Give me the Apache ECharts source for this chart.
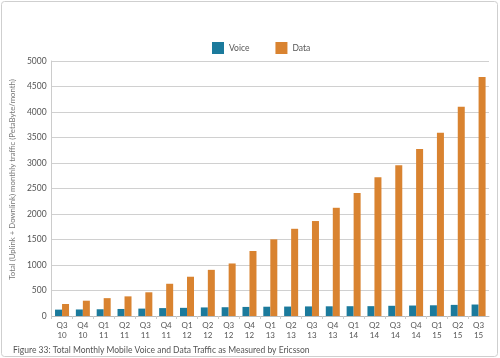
<!DOCTYPE html>
<html>
<head>
<meta charset="utf-8">
<script src="https://cdn.jsdelivr.net/npm/echarts@6/dist/echarts.min.js"></script>
<style>
html,body{margin:0;padding:0;background:#fff;}
#c{width:500px;height:358px;}
</style>
</head>
<body>
<div id="c"></div>
<script>
const categories = ['Q3\n10','Q4\n10','Q1\n11','Q2\n11','Q3\n11','Q4\n11','Q1\n12','Q2\n12','Q3\n12','Q4\n12','Q1\n13','Q2\n13','Q3\n13','Q4\n13','Q1\n14','Q2\n14','Q3\n14','Q4\n14','Q1\n15','Q2\n15','Q3\n15'];
const voice = [125,128,132,138,145,155,160,168,172,178,182,185,188,190,192,193,200,205,210,218,225];
const data = [235,300,350,385,465,632,770,905,1030,1275,1503,1710,1862,2122,2412,2720,2955,3275,3595,4105,4686];
const yTicks = {min:0, max:5000, interval:500};
const caption = 'Figure 33: Total Monthly Mobile Voice and Data Traffic as Measured by Ericsson';
const yName = 'Total (Uplink + Downlink) monthly traffic (PetaByte/month)';

const chart = echarts.init(document.getElementById('c'), null, {renderer:'canvas'});
const font = 'Lato, "Open Sans", sans-serif';
chart.setOption({
  animation:false,
  backgroundColor:'#fff',
  textStyle:{fontFamily:font},
  graphic:[{type:'rect', shape:{x:1.5,y:1.5,width:496,height:355,r:3}, style:{fill:'none',stroke:'#cfcfcf',lineWidth:1}, silent:true}],
  title:{text:caption, left:8, top:341, textStyle:{fontSize:8.5, fontWeight:'normal', color:'#555', fontFamily:font}},
  legend:{top:37, left:207, itemWidth:12, itemHeight:12, itemGap:26, icon:'rect',
    textStyle:{fontSize:8.5, color:'#555', fontFamily:font}, data:['Voice','Data']},
  grid:{left:50, right:11, top:61, bottom:42},
  xAxis:{type:'category', data:categories,
    axisLine:{lineStyle:{color:'#bbb'}},
    axisTick:{show:true, length:3, lineStyle:{color:'#ccc'}},
    axisLabel:{fontSize:8, color:'#555', lineHeight:10, margin:4, interval:0, fontFamily:font}},
  yAxis:{type:'value', min:yTicks.min, max:yTicks.max, interval:yTicks.interval,
    name:yName, nameLocation:'middle', nameGap:33, nameTextStyle:{fontSize:7.8, color:'#777', fontFamily:font, padding:[0,0,0,18]},
    axisLine:{show:true, lineStyle:{color:'#ccc'}},
    axisTick:{show:false},
    splitLine:{lineStyle:{color:'#d0d0d0'}},
    axisLabel:{fontSize:8.5, color:'#555', margin:5, fontFamily:font, formatter:v => String(v)}},
  series:[
    {name:'Voice', type:'bar', data:voice, barWidth:7, barGap:'0%', itemStyle:{color:'#1b7a9c'}},
    {name:'Data', type:'bar', data:data, barWidth:7, barGap:'0%', itemStyle:{color:'#d98330'}}
  ]
});
</script>
</body>
</html>
